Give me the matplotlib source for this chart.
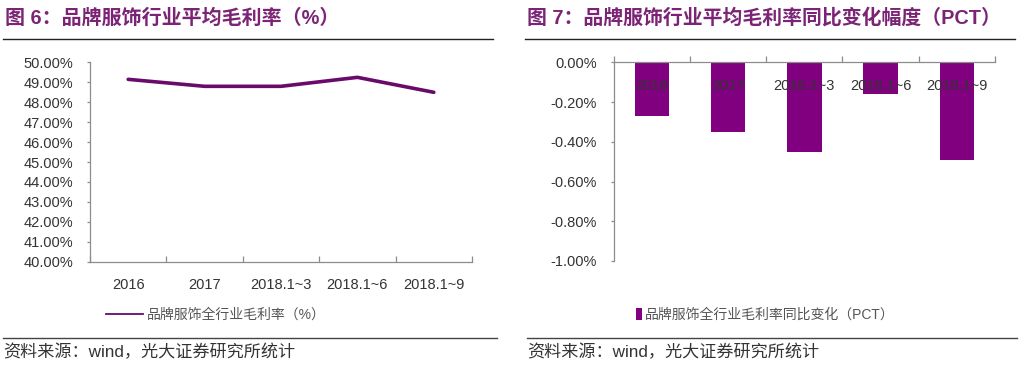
import matplotlib
matplotlib.use("Agg")
import matplotlib.pyplot as plt
from matplotlib.lines import Line2D
from matplotlib.ticker import FuncFormatter, FixedLocator

plt.rcParams['font.family'] = ['Liberation Sans', 'Noto Sans CJK SC', 'DejaVu Sans']

# data
categories = ['2016', '2017', '2018.1~3', '2018.1~6', '2018.1~9']
gross_margin = [49.15, 48.80, 48.80, 49.25, 48.50]      # %
yoy_change = [-0.27, -0.35, -0.45, -0.16, -0.49]         # pct

title_left = '图 6：品牌服饰行业平均毛利率（%）'
title_right = '图 7：品牌服饰行业平均毛利率同比变化幅度（PCT）'
legend_left = '品牌服饰全行业毛利率（%）'
legend_right = '品牌服饰全行业毛利率同比变化（PCT）'
source = '资料来源：wind，光大证券研究所统计'

W, H = 1024, 365
title_color = '#7B2475'
line_color = '#6A0A6A'
bar_color = '#800080'
axis_color = '#8C8C8C'
text_color = '#333333'

fig = plt.figure(figsize=(W / 100, H / 100), dpi=100)


def fx(px):
    return px / W


def fy(py):
    return 1 - py / H


def style_axis(ax):
    for s in ['top', 'right']:
        ax.spines[s].set_visible(False)
    for s in ['left', 'bottom']:
        ax.spines[s].set_color(axis_color)
        ax.spines[s].set_linewidth(0.9)
    ax.set_xlim(-0.5, len(categories) - 0.5)
    ax.set_xticks(range(len(categories)))
    ax.set_xticklabels(categories)
    ax.xaxis.set_minor_locator(FixedLocator([i - 0.5 for i in range(len(categories) + 1)]))
    ax.tick_params(axis='x', which='major', length=0, pad=12, labelsize=10.5, labelcolor=text_color)
    ax.tick_params(axis='x', which='minor', direction='in', length=4, color=axis_color, width=0.9)
    ax.tick_params(axis='y', direction='out', length=2.5, color=axis_color, width=0.9,
                   pad=9.5, labelsize=10.5, labelcolor=text_color)


# left: line chart
ax1 = fig.add_axes([fx(90), fy(261.7), fx(472 - 90), (261.7 - 62.4) / H])
x = list(range(len(categories)))
ax1.plot(x, gross_margin, color=line_color, lw=2.6, solid_capstyle='round')
ax1.set_ylim(40, 50)
ax1.set_yticks(range(40, 51))
ax1.yaxis.set_major_formatter(FuncFormatter(lambda v, p: f'{v:.2f}%'))
style_axis(ax1)

# right: bar chart
ax2 = fig.add_axes([fx(613.7), fy(261), fx(995 - 613.7), (261 - 62.3) / H])
ax2.bar(x, yoy_change, width=0.45, color=bar_color, label=legend_right, zorder=1)
ax2.set_ylim(-1.0, 0)
ax2.set_yticks([-1.0, -0.8, -0.6, -0.4, -0.2, 0.0])
ax2.yaxis.set_major_formatter(FuncFormatter(lambda v, p: f'{v:.2f}%'))
style_axis(ax2)
ax2.spines['bottom'].set_position(('data', 0))
ax2.xaxis.set_zorder(3)
ax2.spines['bottom'].set_zorder(3)

# legends
h1 = [Line2D([], [], color=line_color, lw=1.3)]
fig.legend(h1, [legend_left], loc='center', bbox_to_anchor=(fx(216), fy(315)), frameon=False,
           handlelength=2.6, handletextpad=0.3, labelcolor='#555555',
           prop={'family': ['Liberation Sans', 'Noto Sans CJK SC'], 'size': 10})
h2, l2 = ax2.get_legend_handles_labels()
fig.legend(h2, l2, loc='center', bbox_to_anchor=(fx(765), fy(315)), frameon=False,
           handlelength=0.45, handleheight=0.9, handletextpad=0.2, labelcolor='#555555',
           prop={'family': ['Liberation Sans', 'Noto Sans CJK SC'], 'size': 10})

# titles and rules
fig.text(fx(5), fy(18), title_left, fontsize=14.4, fontweight='bold', color=title_color,
         ha='left', va='center')
fig.text(fx(527), fy(18), title_right, fontsize=14.3, fontweight='bold', color=title_color,
         ha='left', va='center')
for x0, x1 in [(3, 493), (525, 1015)]:
    fig.add_artist(Line2D([fx(x0), fx(x1)], [fy(39.3), fy(39.3)], color='#222222', lw=1.0))
for x0, x1 in [(3, 497), (527, 1017)]:
    fig.add_artist(Line2D([fx(x0), fx(x1)], [fy(337.7), fy(337.7)], color='#444444', lw=1.0))

fig.text(fx(3), fy(352), source, fontsize=12.3, color='#333333', ha='left', va='center')
fig.text(fx(527), fy(352), source, fontsize=12.3, color='#333333', ha='left', va='center')

fig.savefig('out.png', dpi=100, facecolor='white')
